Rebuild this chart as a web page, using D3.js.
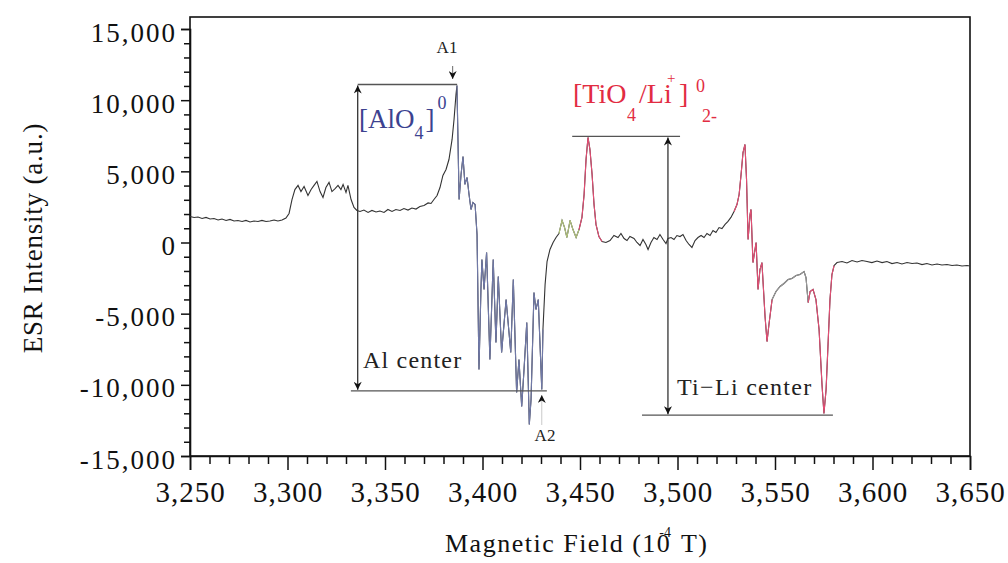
<!DOCTYPE html>
<html>
<head>
<meta charset="utf-8">
<script src="https://cdn.jsdelivr.net/npm/d3@7"></script>
<style>
  body { margin: 0; background: #fff; }
  svg { display: block; font-family: "Liberation Serif", "DejaVu Serif", serif; }
</style>
</head>
<body>
<svg id="chart" width="1008" height="563"></svg>
<script>
// magnetic field (10^-4 T) and ESR intensity (a.u.)
var field = [
  3250.0, 3252.1, 3254.1, 3256.2, 3258.2, 3260.3, 3262.3, 3264.4, 3266.4, 3268.5,
  3270.5, 3272.6, 3274.6, 3276.7, 3278.7, 3280.8, 3282.8, 3284.9, 3286.9, 3289.0,
  3291.0, 3293.1, 3295.1, 3297.2, 3299.2, 3300.8, 3302.3, 3303.8, 3305.4, 3306.9,
  3308.5, 3310.5, 3312.1, 3313.6, 3315.1, 3316.7, 3318.2, 3319.7, 3321.3, 3322.8,
  3324.4, 3325.9, 3327.4, 3328.5, 3330.0, 3331.0, 3332.6, 3334.1, 3335.6, 3337.2,
  3339.2, 3341.3, 3343.3, 3345.4, 3347.4, 3349.5, 3351.5, 3353.6, 3355.6, 3357.7,
  3359.7, 3361.8, 3363.8, 3365.9, 3367.9, 3370.0, 3372.1, 3373.6, 3375.1, 3376.7,
  3378.2, 3379.7, 3381.3, 3382.8, 3384.4, 3385.4, 3386.4, 3386.9, 3388.0, 3389.0,
  3390.0, 3391.0, 3392.1, 3393.1, 3394.1, 3395.1, 3396.2, 3397.2, 3398.2, 3399.2,
  3399.7, 3400.8, 3402.1, 3403.8, 3405.5, 3406.9, 3408.1, 3409.8, 3412.1, 3414.5,
  3415.8, 3417.5, 3418.7, 3420.1, 3421.3, 3422.7, 3424.0, 3424.9, 3426.4, 3427.4,
  3428.6, 3430.4, 3431.0, 3432.1, 3433.1, 3434.6, 3436.2, 3437.7, 3439.2, 3440.8,
  3442.1, 3443.3, 3444.9, 3446.4, 3448.0, 3449.5, 3451.0, 3452.1, 3453.1, 3454.1,
  3455.1, 3456.2, 3457.2, 3458.2, 3459.7, 3461.3, 3463.3, 3465.4, 3467.4, 3469.5,
  3471.0, 3472.6, 3474.1, 3475.6, 3477.7, 3479.2, 3480.8, 3482.3, 3483.8, 3484.9,
  3486.4, 3487.9, 3489.5, 3491.0, 3492.6, 3494.1, 3495.1, 3496.7, 3498.2, 3499.7,
  3501.3, 3502.8, 3504.4, 3505.9, 3507.4, 3509.0, 3510.5, 3512.1, 3513.6, 3515.1,
  3516.7, 3518.2, 3519.7, 3521.3, 3522.8, 3524.4, 3525.9, 3527.4, 3529.0, 3530.5,
  3531.6, 3532.6, 3533.6, 3534.6, 3535.4, 3536.2, 3537.2, 3537.7, 3538.7, 3540.3,
  3541.3, 3542.3, 3543.3, 3544.9, 3545.9, 3546.9, 3548.5, 3550.5, 3552.6, 3554.6,
  3556.7, 3558.7, 3560.8, 3562.8, 3564.9, 3565.9, 3567.0, 3568.0, 3569.5, 3571.0,
  3572.6, 3574.1, 3575.1, 3576.2, 3577.2, 3578.2, 3579.2, 3580.3, 3581.8, 3584.4,
  3586.9, 3589.5, 3592.1, 3594.6, 3597.2, 3599.7, 3602.3, 3604.9, 3607.4, 3610.0,
  3612.6, 3615.1, 3617.7, 3620.3, 3622.8, 3625.4, 3627.9, 3630.5, 3633.1, 3635.6,
  3638.2, 3640.8, 3643.3, 3645.9, 3648.5, 3650.0
];
var intensity = [
  1830, 1760, 1790, 1690, 1760, 1650, 1690, 1580, 1650, 1550,
  1620, 1510, 1550, 1480, 1550, 1440, 1510, 1480, 1550, 1480,
  1510, 1580, 1510, 1580, 1720, 2040, 3020, 3720, 4010, 3580,
  3940, 3300, 3720, 4010, 4290, 3580, 3160, 3860, 4220, 3580,
  3790, 4010, 3720, 4080, 3510, 4010, 3020, 2460, 2250, 2180,
  2280, 2110, 2250, 2140, 2210, 2110, 2320, 2180, 2320, 2250,
  2390, 2280, 2420, 2350, 2530, 2600, 2780, 2740, 3020, 3300,
  3860, 4710, 5130, 5830, 7240, 8640, 10400, 11030, 3020, 4780,
  6040, 4080, 4570, 3370, 2320, 2810, 2670, 560, -8920, -3300,
  -1190, -3300, -700, -8220, -1190, -7030, -2390, -7730, -4010, -7730,
  -2600, -10540, -8220, -11520, -8920, -5620, -12790, -11030, -3510, -4710,
  -4010, -10330, -6110, -2950, -1340, -490, 0, 350, 630, 1550,
  1050, 350, 1550, 910, 350, 910, 1760, 3370, 5830, 7380,
  6530, 4780, 2670, 1270, 420, 70, 0, 140, 490, 350,
  630, 280, 140, 420, 280, 0, -210, 210, -140, -490,
  0, 350, 210, 560, 210, -70, 280, 350, 210, 490,
  420, 560, 140, -140, -350, 140, 350, 490, 350, 630,
  490, 840, 700, 1050, 980, 1270, 1480, 1760, 2180, 2670,
  3370, 4780, 6320, 6890, 4430, 210, 1970, 2320, -1410, 0,
  -3300, -1900, -1410, -5200, -6960, -5760, -4010, -3440, -3090, -2880,
  -2600, -2530, -2320, -2250, -2040, -2460, -4220, -3440, -3300, -4010,
  -6110, -9980, -12010, -10330, -7170, -4010, -2250, -1620, -1410, -1340,
  -1440, -1270, -1370, -1270, -1340, -1410, -1300, -1410, -1340, -1480,
  -1410, -1510, -1410, -1480, -1440, -1550, -1480, -1580, -1510, -1580,
  -1550, -1620, -1580, -1650, -1620, -1650
];

// field ranges of the highlighted signals
var alRange = [3386.5, 3431];
var greenRange = [3439, 3449.5];
var tiRanges = [[3449.5, 3461.3], [3529, 3549], [3567, 3581]];
var grayRange = [3548.5, 3568];

var xTicks = d3.range(3250, 3651, 50);
var yTicks = d3.range(-15000, 15001, 5000);

// annotation levels (data units)
var alTop = 11100, alBottom = -10420, alField = 3336.0;
var tiTop = 7450, tiBottom = -12130, tiField = 3495.1;

var svg = d3.select('#chart');
var x = d3.scaleLinear().domain([3250, 3650]).range([190, 970]);
var y = d3.scaleLinear().domain([-15000, 15000]).range([456, 29]);
var frameTop = 17;

var fmt = function (d) { return d3.format(',')(d).replace('\u2212', '-'); };

// arrow marker
svg.append('defs').append('marker')
    .attr('id', 'arr')
    .attr('viewBox', '0 0 10 10')
    .attr('refX', 10).attr('refY', 5)
    .attr('markerUnits', 'userSpaceOnUse')
    .attr('markerWidth', 9).attr('markerHeight', 8)
    .attr('orient', 'auto-start-reverse')
    .append('path')
    .attr('d', 'M0,0 L10,5 L0,10 L3,5 z')
    .attr('fill', '#111');

// frame
svg.append('rect')
    .attr('x', x(3250)).attr('y', frameTop)
    .attr('width', x(3650) - x(3250)).attr('height', y(-15000) - frameTop)
    .attr('fill', 'none').attr('stroke', '#111').attr('stroke-width', 1.6);

// axes
var xAxis = svg.append('g')
    .attr('transform', 'translate(0,' + y(-15000) + ')')
    .call(d3.axisBottom(x).tickValues(xTicks).tickFormat(fmt).tickSize(14).tickPadding(11));
svg.append('g')
    .attr('transform', 'translate(0,' + y(-15000) + ')')
    .call(d3.axisBottom(x).tickValues(d3.range(3250, 3651, 10).filter(function (d) { return d % 50; }))
        .tickFormat('').tickSize(8))
    .select('.domain').remove();

var yAxis = svg.append('g')
    .attr('transform', 'translate(' + x(3250) + ',0)')
    .call(d3.axisLeft(y).tickValues(yTicks).tickFormat(fmt).tickSize(9).tickPadding(4));
svg.append('g')
    .attr('transform', 'translate(' + x(3250) + ',0)')
    .call(d3.axisLeft(y).tickValues(d3.range(-15000, 15001, 1000).filter(function (d) { return d % 5000; }))
        .tickFormat('').tickSize(6))
    .select('.domain').remove();

svg.selectAll('.domain').attr('stroke', '#111').attr('stroke-width', 1.6);
svg.selectAll('.tick line').attr('stroke', '#111').attr('stroke-width', 1.5);
xAxis.selectAll('text').attr('font-size', 29).attr('fill', '#111')
    .attr('font-family', '"Liberation Serif", serif').attr('letter-spacing', 1);
yAxis.selectAll('text').attr('font-size', 27).attr('fill', '#111')
    .attr('font-family', '"Liberation Serif", serif').attr('letter-spacing', 2).attr('dy', '0.45em');

// axis titles
svg.append('text')
    .attr('transform', 'translate(42,238) rotate(-90)')
    .attr('text-anchor', 'middle')
    .attr('font-size', 27).attr('fill', '#111').attr('letter-spacing', 0.8)
    .text('ESR Intensity (a.u.)');

var xt = svg.append('text')
    .attr('x', 445).attr('y', 552)
    .attr('font-size', 26).attr('fill', '#111')
    .attr('letter-spacing', 1.5);
xt.append('tspan').text('Magnetic Field (10');
xt.append('tspan').attr('dx', -12).attr('dy', -15).attr('font-size', 14).attr('letter-spacing', 0).text('-4');
xt.append('tspan').attr('dx', 10).attr('dy', 15).text('T)');

// spectrum
var pts = field.map(function (f, i) { return [f, intensity[i]]; });
var line = d3.line()
    .x(function (d) { return x(d[0]); })
    .y(function (d) { return y(d[1]); });
var inside = function (r) {
    return pts.filter(function (d) { return d[0] >= r[0] && d[0] <= r[1]; });
};

svg.append('path').datum(pts)
    .attr('d', line).attr('fill', 'none')
    .attr('stroke', '#333').attr('stroke-width', 1.1);
svg.append('path').datum(inside(alRange))
    .attr('d', line).attr('fill', 'none')
    .attr('stroke', '#7079a8').attr('stroke-width', 1.1);
svg.append('path').datum(inside(greenRange))
    .attr('d', line).attr('fill', 'none')
    .attr('stroke', '#b4c67e').attr('stroke-width', 1.1);
svg.append('path').datum(inside(grayRange))
    .attr('d', line).attr('fill', 'none')
    .attr('stroke', '#9a9a9a').attr('stroke-width', 1.1);
tiRanges.forEach(function (r) {
    svg.append('path').datum(inside(r))
        .attr('d', line).attr('fill', 'none')
        .attr('stroke', '#e44e74').attr('stroke-width', 1.1);
});

// Al centre annotation
var ann = svg.append('g').attr('stroke', '#555').attr('stroke-width', 1.3).attr('fill', 'none');
ann.append('line')
    .attr('x1', x(alField)).attr('x2', x(3387))
    .attr('y1', y(alTop)).attr('y2', y(alTop));
ann.append('line')
    .attr('x1', x(3332.5)).attr('x2', x(3433))
    .attr('y1', y(alBottom)).attr('y2', y(alBottom));
ann.append('line')
    .attr('x1', x(alField)).attr('x2', x(alField))
    .attr('y1', y(alTop) + 1).attr('y2', y(alBottom) - 1)
    .attr('stroke', '#333')
    .attr('marker-start', 'url(#arr)').attr('marker-end', 'url(#arr)');

// Ti-Li centre annotation
ann.append('line')
    .attr('x1', x(3446)).attr('x2', x(3501.3))
    .attr('y1', y(tiTop)).attr('y2', y(tiTop));
ann.append('line')
    .attr('x1', x(3481.8)).attr('x2', x(3579.7))
    .attr('y1', y(tiBottom)).attr('y2', y(tiBottom));
ann.append('line')
    .attr('x1', x(tiField)).attr('x2', x(tiField))
    .attr('y1', y(tiTop) + 1).attr('y2', y(tiBottom) - 1)
    .attr('stroke', '#333')
    .attr('marker-start', 'url(#arr)').attr('marker-end', 'url(#arr)');

// A1 / A2 pointers
ann.append('line')
    .attr('x1', x(3384.7)).attr('x2', x(3384.7))
    .attr('y1', 66).attr('y2', 79)
    .attr('stroke', '#444').attr('stroke-width', 0.8)
    .attr('marker-end', 'url(#arr)');
ann.append('line')
    .attr('x1', x(3430.4)).attr('x2', x(3430.4))
    .attr('y1', 425).attr('y2', 395)
    .attr('stroke', '#bbb').attr('stroke-width', 0.8)
    .attr('marker-end', 'url(#arr)');

svg.append('text').attr('x', 447).attr('y', 53)
    .attr('text-anchor', 'middle').attr('font-size', 17).attr('fill', '#222').text('A1');
svg.append('text').attr('x', 545).attr('y', 441)
    .attr('text-anchor', 'middle').attr('font-size', 17).attr('fill', '#222').text('A2');

svg.append('text').attr('x', 363).attr('y', 368)
    .attr('font-size', 24).attr('fill', '#222').attr('letter-spacing', 1.2).text('Al center');
svg.append('text').attr('x', 677).attr('y', 395)
    .attr('font-size', 24).attr('fill', '#222').attr('letter-spacing', 1.3).text('Ti\u2212Li center');

// species labels
var al = svg.append('text').attr('x', 359).attr('y', 128)
    .attr('font-size', 27).attr('fill', '#3c4290');
al.append('tspan').text('[AlO');
al.append('tspan').attr('dy', 11).attr('font-size', 18).text('4');
al.append('tspan').attr('dx', 2).attr('dy', -11).text(']');
al.append('tspan').attr('dx', 3).attr('dy', -19).attr('font-size', 18).text('0');

var ti = svg.append('text').attr('x', 573).attr('y', 103)
    .attr('font-size', 28).attr('fill', '#e22c42');
ti.append('tspan').text('[TiO');
ti.append('tspan').attr('x', 627).attr('y', 121).attr('font-size', 18).text('4');
ti.append('tspan').attr('x', 639).attr('y', 103).text('/Li');
ti.append('tspan').attr('x', 667).attr('y', 83).attr('font-size', 15).text('+');
ti.append('tspan').attr('x', 679).attr('y', 103).text(']');
ti.append('tspan').attr('x', 696).attr('y', 92).attr('font-size', 18).text('0');
ti.append('tspan').attr('x', 702).attr('y', 122).attr('font-size', 18).text('2-');
</script>
</body>
</html>
